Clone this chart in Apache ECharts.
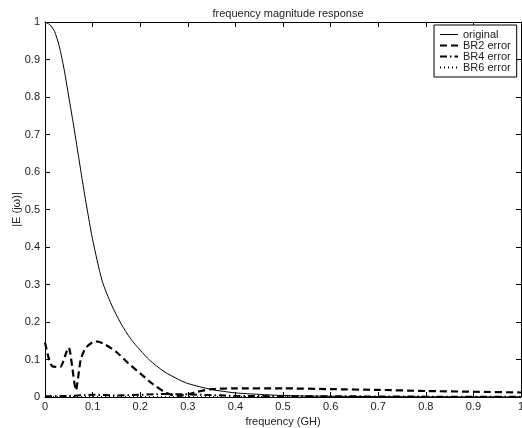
<!doctype html>
<html>
<head>
<meta charset="UTF-8">
<title>frequency magnitude response</title>
<script src="https://cdn.jsdelivr.net/npm/echarts@6/dist/echarts.min.js"></script>
<style>
  html, body { margin: 0; padding: 0; background: #fff; }
  #chart { width: 522px; height: 428px; }
</style>
</head>
<body>
<div id="chart"></div>
<script>
// values
var origFreq = [0, 0.01, 0.02, 0.03, 0.04, 0.05, 0.06, 0.07, 0.08, 0.09, 0.10, 0.12, 0.14, 0.16, 0.18, 0.20, 0.22, 0.25, 0.28, 0.30, 0.35, 0.40, 0.45, 0.50, 0.60, 0.70, 0.80, 0.90, 1.0];
var origVal  = [1.0, 0.993, 0.975, 0.935, 0.875, 0.80, 0.725, 0.645, 0.565, 0.49, 0.42, 0.31, 0.245, 0.195, 0.155, 0.125, 0.098, 0.068, 0.047, 0.036, 0.02, 0.011, 0.007, 0.004, 0.002, 0.001, 0.0005, 0.0003, 0.0002];

var br2Freq = [0, 0.008, 0.015, 0.032, 0.045, 0.05, 0.065, 0.075, 0.085, 0.1, 0.11, 0.125, 0.15, 0.175, 0.2, 0.225, 0.25, 0.27, 0.28, 0.3, 0.32, 0.35, 0.4, 0.5, 0.6, 0.7, 0.8, 0.9, 1.0];
var br2Val  = [0.145, 0.103, 0.082, 0.080, 0.12, 0.132, 0.018, 0.10, 0.13, 0.146, 0.148, 0.141, 0.12, 0.09, 0.063, 0.036, 0.014, 0.004, 0.003, 0.007, 0.014, 0.021, 0.023, 0.023, 0.021, 0.019, 0.016, 0.014, 0.012];

var br4Freq = [0, 0.05, 0.1, 0.15, 0.2, 0.25, 0.3, 0.35, 0.4, 0.5, 0.6, 0.7, 0.8, 0.9, 1.0];
var br4Val  = [0.002, 0.003, 0.006, 0.004, 0.006, 0.008, 0.007, 0.005, 0.003, 0.002, 0.002, 0.0015, 0.001, 0.001, 0.001];

var br6Freq = [0, 0.1, 0.2, 0.3, 0.4, 0.5, 0.6, 0.7, 0.8, 0.9, 1.0];
var br6Val  = [0.001, 0.0015, 0.0012, 0.001, 0.001, 0.0008, 0.0008, 0.0006, 0.0005, 0.0005, 0.0005];

var seriesNames = ['original', 'BR2 error', 'BR4 error', 'BR6 error'];

function pairs(xs, ys) {
  var out = [];
  for (var i = 0; i < xs.length; i++) out.push([xs[i], ys[i]]);
  return out;
}

var font = 'Liberation Sans, Arial, Helvetica, sans-serif';
var textStyle = { color: '#222', fontSize: 11, fontFamily: font };

function axisBase(show) {
  return {
    type: 'value', min: 0, max: 1, interval: 0.1,
    axisLine: { show: true, onZero: false, lineStyle: { color: '#000', width: 1 } },
    axisTick: { show: true, inside: true, length: 5, lineStyle: { color: '#000' } },
    axisLabel: { show: show, color: '#222', fontSize: 11, fontFamily: font, formatter: function (v) { return +v.toFixed(1) + ''; } },
    splitLine: { show: false }
  };
}

var xBottom = axisBase(true);
xBottom.position = 'bottom';
xBottom.axisLabel.margin = 4;
xBottom.name = 'frequency (GH)';
xBottom.nameLocation = 'middle';
xBottom.nameGap = 19;
xBottom.nameMoveOverlap = false;
xBottom.nameTextStyle = textStyle;
var xTop = axisBase(false);
xTop.position = 'top';

var yLeft = axisBase(true);
yLeft.position = 'left';
yLeft.axisLabel.margin = 5;
yLeft.name = '|E (jω)|';
yLeft.nameLocation = 'middle';
yLeft.nameGap = 23;
yLeft.nameMoveOverlap = false;
yLeft.nameTextStyle = textStyle;
var yRight = axisBase(false);
yRight.position = 'right';

var myChart = echarts.init(document.getElementById('chart'));
myChart.setOption({
  backgroundColor: '#fff',
  animation: false,
  title: {
    text: 'frequency magnitude response',
    left: 283, top: 3, textAlign: 'center',
    textStyle: { color: '#222', fontSize: 11, fontWeight: 'normal', fontFamily: font }
  },
  grid: { left: 45, right: 1, top: 22, bottom: 31, containLabel: false, outerBoundsMode: 'none' },
  legend: {
    data: [
      { name: seriesNames[0], lineStyle: { width: 1 } },
      { name: seriesNames[1] },
      { name: seriesNames[2] },
      { name: seriesNames[3] }
    ],
    orient: 'vertical',
    left: 434, top: 25,
    width: 84,
    padding: [4, 6, 4, 5],
    itemGap: 0,
    itemWidth: 18, itemHeight: 10,
    itemStyle: { opacity: 0 },
    borderColor: '#000', borderWidth: 1,
    backgroundColor: '#fff',
    textStyle: { color: '#222', fontSize: 11, fontFamily: font, lineHeight: 11 }
  },
  xAxis: [xBottom, xTop],
  yAxis: [yLeft, yRight],
  series: [
    { name: seriesNames[0], type: 'line', showSymbol: false, symbol: 'none', smooth: 0.25,
      lineStyle: { color: '#000', width: 1, type: 'solid' }, itemStyle: { color: '#000' },
      data: pairs(origFreq, origVal) },
    { name: seriesNames[1], type: 'line', showSymbol: false, symbol: 'none', smooth: 0.2,
      lineStyle: { color: '#000', width: 2.2, type: [7, 4] }, itemStyle: { color: '#000' },
      data: pairs(br2Freq, br2Val) },
    { name: seriesNames[2], type: 'line', showSymbol: false, symbol: 'none',
      lineStyle: { color: '#000', width: 2, type: [7, 3, 1.5, 3] }, itemStyle: { color: '#000' },
      data: pairs(br4Freq, br4Val) },
    { name: seriesNames[3], type: 'line', showSymbol: false, symbol: 'none',
      lineStyle: { color: '#000', width: 1, type: [1, 3] }, itemStyle: { color: '#000' },
      data: pairs(br6Freq, br6Val) }
  ]
});
</script>
</body>
</html>
